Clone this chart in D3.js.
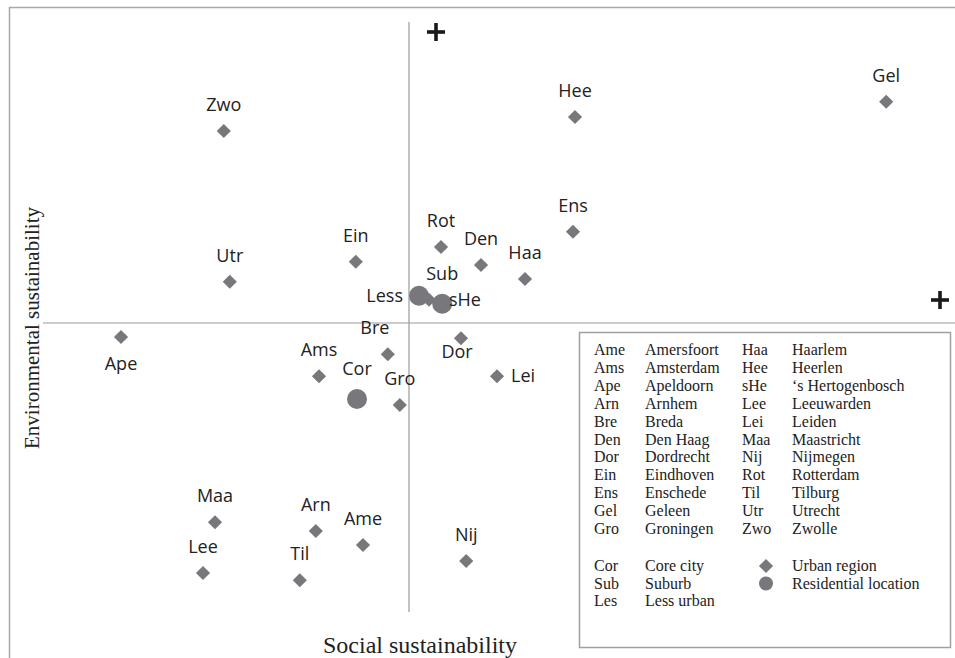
<!DOCTYPE html>
<html>
<head>
<meta charset="utf-8">
<script src="https://cdn.jsdelivr.net/npm/d3@7"></script>
<style>
  html, body { margin: 0; padding: 0; background: #fff; }
  svg { display: block; }
</style>
</head>
<body>
<svg id="chart" width="955" height="658"></svg>
<script>
// ---- data ----
const codes = ["Zwo","Utr","Ein","Rot","Den","Haa","Hee","Ens","Gel","Ape","Bre","Ams","Dor","Lei","Gro","Maa","Arn","Ame","Lee","Til","Nij","sHe","Cor","Less","Sub"];
const socialScore = [-4.63,-4.48,-1.33,0.80,1.80,2.90,4.15,4.10,11.93,-7.20,-0.53,-2.25,1.30,2.20,-0.23,-4.85,-2.33,-1.15,-5.15,-2.73,1.43,0.50,-1.30,0.25,0.83];
const environmentalScore = [4.80,1.03,1.53,1.90,1.45,1.10,5.15,2.28,5.53,-0.35,-0.78,-1.33,-0.38,-1.33,-2.05,-4.98,-5.20,-5.55,-6.25,-6.43,-5.95,0.58,-1.90,0.68,0.48];
const pointType = ["region","region","region","region","region","region","region","region","region","region","region","region","region","region","region","region","region","region","region","region","region","region","location","location","location"];
// label placement (direction only)
const labelSide = ["above","above","above","above","above","above","above","above","above","below","aboveLeft","above","belowLeft","right","above","above","above","above","above","above","above","right","above","left","above"];

const legendCodesA = ["Ame","Ams","Ape","Arn","Bre","Den","Dor","Ein","Ens","Gel","Gro"];
const legendNamesA = ["Amersfoort","Amsterdam","Apeldoorn","Arnhem","Breda","Den Haag","Dordrecht","Eindhoven","Enschede","Geleen","Groningen"];
const legendCodesB = ["Haa","Hee","sHe","Lee","Lei","Maa","Nij","Rot","Til","Utr","Zwo"];
const legendNamesB = ["Haarlem","Heerlen","\u2018s Hertogenbosch","Leeuwarden","Leiden","Maastricht","Nijmegen","Rotterdam","Tilburg","Utrecht","Zwolle"];
const locationCodes = ["Cor","Sub","Les"];
const locationNames = ["Core city","Suburb","Less urban"];
const symbolTypes = ["region","location"];
const symbolNames = ["Urban region","Residential location"];

const xTitle = "Social sustainability";
const yTitle = "Environmental sustainability";

// ---- drawing ----
const svg = d3.select("#chart");
const W = 955, H = 658;
const markColor = "#78787c";
const serif = "'Liberation Serif', 'DejaVu Serif', serif";
const sans = "'Open Sans', 'Noto Sans', sans-serif";

const x = d3.scaleLinear().domain([-10, 14]).range([9, 969]);
const y = d3.scaleLinear().domain([8, -8.5]).range([3, 663]);

// outer frame
svg.append("rect").attr("x", 9.5).attr("y", 7.5).attr("width", 960).attr("height", 670)
  .attr("fill", "none").attr("stroke", "#a8a8a8").attr("stroke-width", 1.5);

// axes through origin
svg.append("line").attr("x1", 43).attr("x2", W).attr("y1", y(0)).attr("y2", y(0))
  .attr("stroke", "#9a9a9a").attr("stroke-width", 1.2);
svg.append("line").attr("x1", x(0)).attr("x2", x(0)).attr("y1", 22).attr("y2", 612)
  .attr("stroke", "#9a9a9a").attr("stroke-width", 1.2);

// plus signs
function plus(cx, cy) {
  const g = svg.append("g").attr("stroke", "#1a1a1a").attr("stroke-width", 3.6);
  g.append("line").attr("x1", cx - 9).attr("x2", cx + 9).attr("y1", cy).attr("y2", cy);
  g.append("line").attr("x1", cx).attr("x2", cx).attr("y1", cy - 9).attr("y2", cy + 9);
}
plus(x(0) + 27, 32);
plus(940, y(0) - 23);

// axis titles
svg.append("text").attr("x", 420).attr("y", 653).attr("text-anchor", "middle")
  .attr("font-family", serif).attr("font-size", 24).attr("fill", "#222").text(xTitle);
svg.append("text").attr("transform", `translate(39,${328}) rotate(-90)`).attr("text-anchor", "middle")
  .attr("font-family", serif).attr("font-size", 21).attr("fill", "#222").text(yTitle);

const points = codes.map((c, i) => ({ code: c, sx: socialScore[i], ey: environmentalScore[i], type: pointType[i], side: labelSide[i] }));

const diamondPath = d3.symbol().type(d3.symbolSquare).size(100)();

// diamonds first, then circles on top
const regions = points.filter(p => p.type === "region");
const locations = points.filter(p => p.type === "location");

svg.append("g").selectAll("path").data(regions).join("path")
  .attr("d", diamondPath)
  .attr("transform", d => `translate(${x(d.sx)},${y(d.ey)}) rotate(45)`)
  .attr("fill", markColor);

svg.append("g").selectAll("circle").data(locations).join("circle")
  .attr("cx", d => x(d.sx)).attr("cy", d => y(d.ey)).attr("r", 10)
  .attr("fill", markColor);

// labels
svg.append("g").selectAll("text").data(points).join("text")
  .attr("font-family", sans).attr("font-size", 18).attr("fill", "#222")
  .attr("x", d => {
    const px = x(d.sx);
    if (d.side === "right") return px + (d.code === "sHe" ? 20 : 14);
    if (d.side === "left") return px - 16;
    if (d.side === "aboveLeft") return px - 13;
    if (d.side === "belowLeft") return px - 4;
    return px;
  })
  .attr("y", d => {
    const py = y(d.ey);
    if (d.side === "below") return py + 33;
    if (d.side === "belowLeft") return py + 20;
    if (d.side === "right" || d.side === "left") return py + 6;
    if (d.type === "location") return py - 24;
    return py - 20;
  })
  .attr("text-anchor", d => d.side === "right" ? "start" : d.side === "left" ? "end" : "middle")
  .text(d => d.code);

// legend
const lg = svg.append("g");
lg.append("rect").attr("x", 579.5).attr("y", 332.5).attr("width", 371).attr("height", 315)
  .attr("fill", "#fff").attr("stroke", "#a0a0a0").attr("stroke-width", 1.5);

const rowY = d3.scalePoint().domain(d3.range(11)).range([355, 534]);
const lt = (tx, ty, s) => lg.append("text").attr("x", tx).attr("y", ty)
  .attr("font-family", serif).attr("font-size", 16).attr("fill", "#222").text(s);

legendCodesA.forEach((c, i) => { lt(594, rowY(i), c); lt(645, rowY(i), legendNamesA[i]); });
legendCodesB.forEach((c, i) => { lt(742, rowY(i), c); lt(792, rowY(i), legendNamesB[i]); });

const rowY2 = d3.scalePoint().domain(d3.range(3)).range([571, 606]);
locationCodes.forEach((c, i) => { lt(594, rowY2(i), c); lt(645, rowY2(i), locationNames[i]); });
symbolTypes.forEach((t, i) => {
  const cy = rowY2(i) - 5;
  if (t === "region") {
    lg.append("path").attr("d", diamondPath)
      .attr("transform", `translate(766,${cy}) rotate(45)`).attr("fill", markColor);
  } else {
    lg.append("circle").attr("cx", 766).attr("cy", cy).attr("r", 7).attr("fill", markColor);
  }
  lt(792, rowY2(i), symbolNames[i]);
});
</script>
</body>
</html>
